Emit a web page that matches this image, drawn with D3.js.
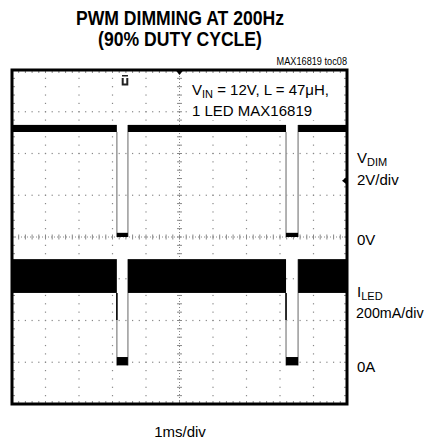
<!DOCTYPE html>
<html>
<head>
<meta charset="utf-8">
<script src="https://cdn.jsdelivr.net/npm/d3@7"></script>
<style>
  body { margin: 0; background: #fff; }
  svg { display: block; font-family: "Liberation Sans", Arial, sans-serif; }
</style>
</head>
<body>
<svg id="chart" width="425" height="444"></svg>
<script>
// scope screen: 10 x 8 divisions, 1ms/div
const timeDomain = [0, 10];
const divDomain = [-4, 4];

// PWM edges (ms)
const pulseFall = [3.13, 8.18];
const pulseRise = [3.46, 8.54];

// V_DIM trace (volts), 2V/div, 0V at centre line
const vdimHighBand = [5.03, 5.37];
const vdimLowBand = [0.0, 0.2];

// I_LED trace (mA), 200mA/div, 0A three divs below centre
const iledHighBand = [332, 494];
const iledLowBand = [-15, 25];
const iledFallKnee = 202;

const x = d3.scaleLinear().domain(timeDomain).range([12, 347]);
const y = d3.scaleLinear().domain(divDomain).range([404, 70]);
const vdimDiv = v => v / 2;
const iledDiv = ma => -3 + ma / 200;

const svg = d3.select('#chart');

// titles, squeezed horizontally to look like a narrow face
[['PWM DIMMING AT 200Hz', 25], ['(90% DUTY CYCLE)', 46]].forEach(([txt, yy]) => {
  svg.append('text')
    .attr('transform', `translate(180,${yy}) scale(0.88,1)`)
    .attr('text-anchor', 'middle')
    .attr('font-weight', 'bold')
    .attr('font-size', 20)
    .text(txt);
});
svg.append('text')
  .attr('transform', 'translate(347,65) scale(0.92,1)')
  .attr('text-anchor', 'end')
  .attr('font-size', 10)
  .text('MAX16819 toc08');

// grid
const grid = svg.append('g').attr('fill', '#888');
const xMajor = d3.range(timeDomain[0], timeDomain[1] + 1);
const yMajor = d3.range(divDomain[0], divDomain[1] + 1);
const xMinor = d3.range(0, 50 + 1).map(i => i / 5);
const yMinor = d3.range(-20, 20 + 1).map(i => i / 5);

// dotted vertical lines
xMajor.filter(t => t > 0 && t < 10 && t !== 5).forEach(t => {
  grid.selectAll(null).data(yMinor).enter().append('rect')
    .attr('x', x(t) - 0.6).attr('y', d => y(d) - 0.6)
    .attr('width', 1.2).attr('height', 1.2);
});
// dotted horizontal lines
yMajor.filter(d => d > -4 && d < 4 && d !== 0).forEach(d => {
  grid.selectAll(null).data(xMinor).enter().append('rect')
    .attr('x', t => x(t) - 0.6).attr('y', y(d) - 0.6)
    .attr('width', 1.2).attr('height', 1.2);
});

// centre axes with tick marks
const axes = svg.append('g').attr('stroke', '#888').attr('stroke-width', 1);
axes.selectAll(null).data(yMinor).enter().append('line')
  .attr('x1', x(5) - 2.5).attr('x2', x(5) + 2.5)
  .attr('y1', d => y(d)).attr('y2', d => y(d));
axes.selectAll(null).data(xMinor).enter().append('line')
  .attr('x1', t => x(t)).attr('x2', t => x(t))
  .attr('y1', y(0) - 2.5).attr('y2', y(0) + 2.5);
axes.append('line').attr('stroke-dasharray', '1,2')
  .attr('x1', x(5)).attr('x2', x(5)).attr('y1', y(4)).attr('y2', y(-4));
axes.append('line').attr('stroke-dasharray', '1,2')
  .attr('x1', x(0)).attr('x2', x(10)).attr('y1', y(0)).attr('y2', y(0));

// edge ticks along the frame
axes.selectAll(null).data(xMinor).enter().append('line')
  .attr('x1', t => x(t)).attr('x2', t => x(t))
  .attr('y1', y(4)).attr('y2', y(4) + 3);
axes.selectAll(null).data(xMinor).enter().append('line')
  .attr('x1', t => x(t)).attr('x2', t => x(t))
  .attr('y1', y(-4)).attr('y2', y(-4) - 3);
axes.selectAll(null).data(yMinor).enter().append('line')
  .attr('x1', x(0)).attr('x2', x(0) + 3)
  .attr('y1', d => y(d)).attr('y2', d => y(d));
axes.selectAll(null).data(yMinor).enter().append('line')
  .attr('x1', x(10)).attr('x2', x(10) - 3)
  .attr('y1', d => y(d)).attr('y2', d => y(d));

// annotation box
svg.append('rect')
  .attr('x', 187).attr('y', 77).attr('width', 156).attr('height', 43)
  .attr('fill', '#fff');
const note = svg.append('text').attr('font-size', 15).attr('x', 192).attr('y', 95);
note.append('tspan').text('V');
note.append('tspan').attr('font-size', 11).attr('dy', 3).text('IN');
note.append('tspan').attr('dy', -3).text(' = 12V, L = 47μH,');
svg.append('text').attr('font-size', 15).attr('x', 192).attr('y', 116)
  .text('1 LED MAX16819');

// traces
function drawTrace(toDiv, highBand, lowBand, kneeLevel) {
  const g = svg.append('g');
  const starts = [timeDomain[0]].concat(pulseRise);
  const ends = pulseFall.concat([timeDomain[1]]);
  const hiTop = y(toDiv(highBand[1]));
  const hiBot = y(toDiv(highBand[0]));
  const loTop = y(toDiv(lowBand[1]));
  const loBot = y(toDiv(lowBand[0]));

  // gray transition edges
  pulseFall.forEach((t, i) => {
    g.append('line')
      .attr('x1', x(t)).attr('x2', x(t))
      .attr('y1', hiBot).attr('y2', loBot)
      .attr('stroke', '#999').attr('stroke-width', 1.5);
    g.append('line')
      .attr('x1', x(pulseRise[i])).attr('x2', x(pulseRise[i]))
      .attr('y1', hiTop).attr('y2', loBot)
      .attr('stroke', '#999').attr('stroke-width', 1.5);
    if (kneeLevel !== undefined) {
      g.append('line')
        .attr('x1', x(t)).attr('x2', x(t))
        .attr('y1', hiBot).attr('y2', y(toDiv(kneeLevel)))
        .attr('stroke', '#000').attr('stroke-width', 1.5);
    }
  });

  // high level bands
  g.selectAll(null).data(d3.zip(starts, ends)).enter().append('rect')
    .attr('x', d => x(d[0])).attr('width', d => x(d[1]) - x(d[0]))
    .attr('y', hiTop).attr('height', hiBot - hiTop)
    .attr('fill', '#000');

  // low level bars during the off time
  g.selectAll(null).data(d3.zip(pulseFall, pulseRise)).enter().append('rect')
    .attr('x', d => x(d[0])).attr('width', d => x(d[1]) - x(d[0]))
    .attr('y', loTop).attr('height', loBot - loTop)
    .attr('fill', '#000');
}
drawTrace(vdimDiv, vdimHighBand, vdimLowBand);
drawTrace(iledDiv, iledHighBand, iledLowBand, iledFallKnee);

// frame
svg.append('rect')
  .attr('x', x(0)).attr('y', y(4))
  .attr('width', x(10) - x(0)).attr('height', y(-4) - y(4))
  .attr('fill', 'none').attr('stroke', '#000').attr('stroke-width', 3);

// trigger marker at top centre
svg.append('path')
  .attr('d', `M${x(5) - 4},${y(4)} L${x(5) + 4},${y(4)} L${x(5)},${y(4) + 5} Z`)
  .attr('fill', '#000');
// trigger level marker on the right edge
svg.append('path')
  .attr('d', `M${x(10)},${y(vdimDiv(2.7)) - 4} L${x(10)},${y(vdimDiv(2.7)) + 4} L${x(10) - 5},${y(vdimDiv(2.7))} Z`)
  .attr('fill', '#000');
// small "T" trigger position icon
const tIcon = svg.append('g').attr('transform', 'translate(125,81)');
tIcon.append('rect').attr('x', -3).attr('y', -6).attr('width', 6).attr('height', 1.5).attr('fill', '#222');
tIcon.append('path').attr('d', 'M-2.3,-3 L-2.3,3.5 L2.3,3.5 L2.3,-3').attr('fill', 'none')
  .attr('stroke', '#222').attr('stroke-width', 2);

// right side labels
const labels = svg.append('g').attr('font-size', 15);
const vdimLabel = labels.append('text').attr('x', 357).attr('y', 163);
vdimLabel.append('tspan').text('V');
vdimLabel.append('tspan').attr('font-size', 11).attr('dy', 3).text('DIM');
labels.append('text').attr('x', 357).attr('y', 185).text('2V/div');
labels.append('text').attr('x', 357).attr('y', 245).text('0V');
const iledLabel = labels.append('text').attr('x', 357).attr('y', 297);
iledLabel.append('tspan').text('I');
iledLabel.append('tspan').attr('font-size', 11).attr('dy', 3).text('LED');
labels.append('text').attr('x', 356).attr('y', 318).attr('font-size', 14.3).text('200mA/div');
labels.append('text').attr('x', 357).attr('y', 372).text('0A');

svg.append('text')
  .attr('x', 180).attr('y', 437)
  .attr('text-anchor', 'middle')
  .attr('font-size', 15)
  .text('1ms/div');
</script>
</body>
</html>
